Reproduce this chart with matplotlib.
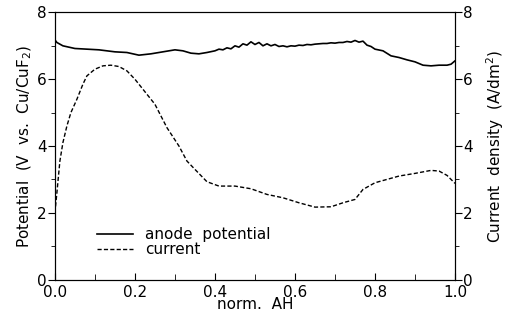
import matplotlib
matplotlib.use("Agg")
import matplotlib.pyplot as plt
from matplotlib.ticker import MultipleLocator

plt.rcParams["font.family"] = ["DejaVu Sans"]

# anode potential (V vs. Cu/CuF2)
pot_x = [0.0, 0.005, 0.02, 0.05, 0.08, 0.11, 0.15, 0.18, 0.21, 0.24, 0.27, 0.30,
         0.32, 0.34, 0.36, 0.38, 0.40,
         0.41, 0.42, 0.43, 0.44, 0.45, 0.46, 0.47, 0.48, 0.49, 0.50,
         0.51, 0.52, 0.53, 0.54, 0.55, 0.56, 0.57, 0.58, 0.59, 0.60,
         0.61, 0.62, 0.63, 0.64, 0.65, 0.66, 0.67, 0.68, 0.69, 0.70,
         0.71, 0.72, 0.73, 0.74, 0.75, 0.76, 0.77, 0.78, 0.79,
         0.80, 0.82, 0.84, 0.86, 0.88, 0.90, 0.92, 0.94, 0.96, 0.98, 0.99, 1.0]
pot_y = [7.18, 7.10, 7.00, 6.92, 6.90, 6.88, 6.82, 6.80, 6.72, 6.76, 6.82, 6.88,
         6.85, 6.78, 6.76, 6.80, 6.85,
         6.90, 6.88, 6.94, 6.91, 7.00, 6.96, 7.06, 7.02, 7.12, 7.04,
         7.10, 7.00, 7.06, 7.00, 7.04, 6.98, 7.00, 6.97, 7.00, 6.99,
         7.02, 7.01, 7.04, 7.03, 7.05, 7.06, 7.07, 7.07, 7.09, 7.08,
         7.10, 7.10, 7.13, 7.11, 7.16, 7.11, 7.14, 7.02, 6.98,
         6.90, 6.85, 6.70, 6.65, 6.58, 6.52, 6.42, 6.40, 6.42, 6.42, 6.45, 6.55]

# current density (A/dm2)
cur_x = [0.0, 0.005, 0.0125, 0.02, 0.03, 0.04, 0.055, 0.07, 0.08, 0.10, 0.12, 0.14,
         0.16, 0.18, 0.20, 0.22, 0.25, 0.28, 0.31, 0.33, 0.35, 0.38, 0.41, 0.45,
         0.49, 0.53, 0.57, 0.61, 0.65, 0.69, 0.72, 0.75, 0.77, 0.80, 0.83, 0.86,
         0.90, 0.94, 0.96, 0.98, 1.0]
cur_y = [2.0, 2.6, 3.55, 4.1, 4.6, 5.0, 5.4, 5.85, 6.1, 6.3, 6.4, 6.42,
         6.38, 6.25, 6.0, 5.7, 5.25, 4.55, 4.0, 3.55, 3.3, 2.93, 2.8, 2.8,
         2.72, 2.55, 2.45, 2.3, 2.17, 2.18, 2.3, 2.4, 2.7, 2.9, 3.0, 3.1,
         3.18, 3.27, 3.25, 3.12, 2.88]

fig = plt.figure(figsize=(5.13, 3.27), dpi=100)
ax = fig.add_axes([0.107, 0.145, 0.78, 0.817])
ax2 = ax.twinx()

ax.plot(pot_x, pot_y, color="black", lw=1.2, label="anode  potential")
ax.plot(cur_x, cur_y, color="black", lw=1.0, ls=(0, (3, 1.6)), label="current")

for a in (ax, ax2):
    a.set_ylim(0, 8)
    a.yaxis.set_major_locator(MultipleLocator(2))
    a.yaxis.set_minor_locator(MultipleLocator(1))
ax.set_xlim(0, 1)
ax.xaxis.set_major_locator(MultipleLocator(0.2))
ax.xaxis.set_minor_locator(MultipleLocator(0.1))
ax.xaxis.set_major_formatter(lambda v, p: f"{v:.1f}")

ax.tick_params(axis="x", which="both", direction="in", top=False, labelsize=11, pad=4)
ax.tick_params(axis="x", which="major", length=5)
ax.tick_params(axis="x", which="minor", length=4)
ax.tick_params(axis="y", which="both", direction="out", labelsize=11, pad=1)
ax.tick_params(axis="y", which="major", length=5)
ax.tick_params(axis="y", which="minor", length=3)
ax2.tick_params(axis="y", which="both", direction="out", labelsize=11, pad=1)
ax2.tick_params(axis="y", which="major", length=5)
ax2.tick_params(axis="y", which="minor", length=3)

ax.set_xlabel("norm.  AH", fontsize=11, labelpad=-2)
ax.set_ylabel("Potential  (V  vs.  Cu/CuF$_2$)", fontsize=11, labelpad=2)
ax2.set_ylabel("Current  density  (A/dm$^2$)", fontsize=11, labelpad=8)

ax.legend(loc="upper left", bbox_to_anchor=(0.085, 0.225), frameon=False,
          fontsize=11, handlelength=2.4, handletextpad=0.8, labelspacing=0.0,
          borderpad=0)

fig.savefig("out.png", dpi=100)
